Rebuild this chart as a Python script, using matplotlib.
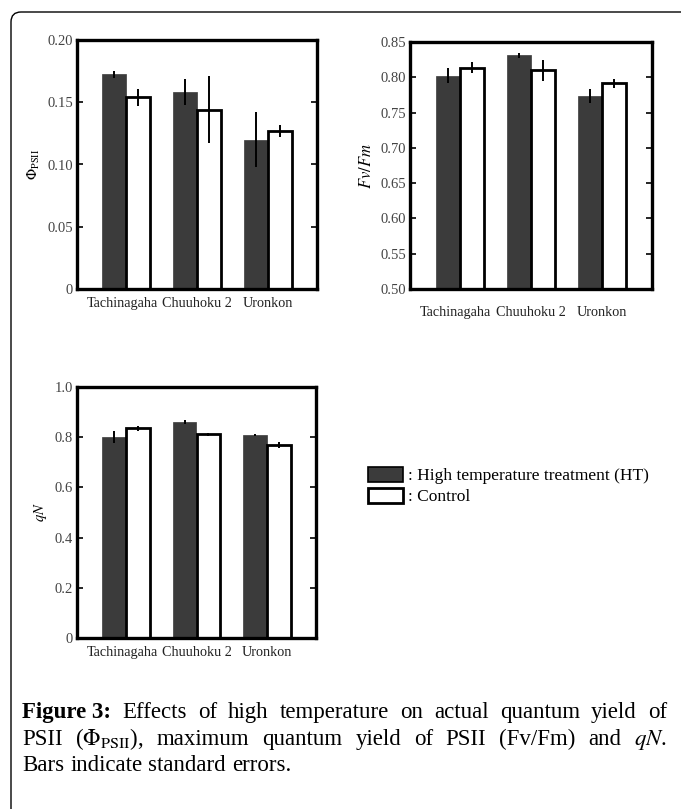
import matplotlib
matplotlib.use('Agg')
import matplotlib.pyplot as plt
from matplotlib.patches import Patch, FancyBboxPatch
from matplotlib.transforms import IdentityTransform, ScaledTranslation
import numpy as np

plt.rcParams['font.family'] = ['Liberation Serif', 'DejaVu Serif']
plt.rcParams['mathtext.fontset'] = 'stix'

cultivars = ['Tachinagaha', 'Chuuhoku 2', 'Uronkon']

# Phi PSII
phi_ht = [0.1725, 0.158, 0.120]
phi_ht_err = [0.003, 0.0105, 0.022]
phi_ct = [0.154, 0.144, 0.127]
phi_ct_err = [0.0067, 0.027, 0.005]

# Fv/Fm
fvfm_ht = [0.802, 0.831, 0.773]
fvfm_ht_err = [0.0105, 0.0035, 0.010]
fvfm_ct = [0.8135, 0.810, 0.7915]
fvfm_ct_err = [0.0075, 0.015, 0.006]

# qN
qn_ht = [0.800, 0.860, 0.810]
qn_ht_err = [0.025, 0.008, 0.004]
qn_ct = [0.835, 0.812, 0.768]
qn_ct_err = [0.010, 0.006, 0.011]

W, H = 681, 809
fig = plt.figure(figsize=(W / 100, H / 100), dpi=100)

dark = '#3b3b3b'
bw = 0.34


def panel(rect, ht, ht_err, ct, ct_err, ylim, yticks, yticklabels, ylabel, ylab_size, lab_pad):
    ax = fig.add_axes(rect)
    x = np.arange(1, len(cultivars) + 1)
    ax.bar(x - bw / 2, ht, bw, color=dark, edgecolor=dark, linewidth=0.5, zorder=2)
    ax.bar(x + bw / 2, ct, bw, color='white', edgecolor='black', linewidth=2.0, zorder=2)
    ax.errorbar(x - bw / 2, ht, yerr=ht_err, fmt='none', ecolor='black', elinewidth=1.4, capsize=0, zorder=3)
    ax.errorbar(x + bw / 2, ct, yerr=ct_err, fmt='none', ecolor='black', elinewidth=1.4, capsize=0, zorder=3)
    ax.set_xlim(0.3, 3.7)
    ax.set_ylim(*ylim)
    ax.set_yticks(yticks)
    ax.set_yticklabels(yticklabels)
    ax.set_xticks(x)
    ax.set_xticklabels(cultivars)
    ax.tick_params(axis='x', length=0, pad=lab_pad, labelsize=10.2, colors='#222222')
    ax.tick_params(axis='y', direction='in', length=4, width=1.2, right=True, left=True,
                   labelsize=10.5, labelcolor='#444444', pad=3)
    # first label sits a little left of its group, as in the original
    lab0 = ax.get_xticklabels()[0]
    lab0.set_transform(lab0.get_transform() + ScaledTranslation(-4 / 100, 0, fig.dpi_scale_trans))
    for s in ax.spines.values():
        s.set_linewidth(2.4)
    ax.set_ylabel(ylabel, fontsize=ylab_size, labelpad=4)
    return ax


ax1 = panel([77 / W, 1 - 289 / H, 240 / W, 249 / H], phi_ht, phi_ht_err, phi_ct, phi_ct_err,
            (0, 0.20), [0, 0.05, 0.10, 0.15, 0.20], ['0', '0.05', '0.10', '0.15', '0.20'],
            r'$\Phi_{\mathrm{PSII}}$', 10.5, 6)
ax2 = panel([410 / W, 1 - 289 / H, 242 / W, 247 / H], fvfm_ht, fvfm_ht_err, fvfm_ct, fvfm_ct_err,
            (0.5, 0.85), [0.5, 0.55, 0.6, 0.65, 0.7, 0.75, 0.8, 0.85],
            ['0.50', '0.55', '0.60', '0.65', '0.70', '0.75', '0.80', '0.85'],
            r'$Fv/Fm$', 12, 12)
ax3 = panel([77 / W, 1 - 638 / H, 239 / W, 251 / H], qn_ht, qn_ht_err, qn_ct, qn_ct_err,
            (0, 1.0), [0, 0.2, 0.4, 0.6, 0.8, 1.0], ['0', '0.2', '0.4', '0.6', '0.8', '1.0'],
            r'$qN$', 10.5, 6)

handles = [Patch(facecolor=dark, edgecolor='black', linewidth=1.2),
           Patch(facecolor='white', edgecolor='black', linewidth=2.0)]
fig.legend(handles, [': High temperature treatment (HT)', ': Control'],
           loc='center left', bbox_to_anchor=(368 / W, 1 - 486 / H), frameon=False,
           fontsize=12.5, handlelength=2.0, handleheight=1.0, handletextpad=0.3,
           labelspacing=0.2, borderpad=0, borderaxespad=0)

# outer rounded frame, cut off at right and bottom
frame = FancyBboxPatch((11, -40), 720, H - 12 + 40, boxstyle='round,pad=0,rounding_size=10',
                       transform=IdentityTransform(), facecolor='none', edgecolor='black',
                       linewidth=1.0)
fig.patches.append(frame)

# caption, justified lines
renderer = fig.canvas.get_renderer()
x_left, x_right = 22, 667
cap_lines = [
    (['Figure 3:', 'Effects', 'of', 'high', 'temperature', 'on', 'actual', 'quantum', 'yield', 'of'], True),
    (['PSII', r'($\Phi_{\mathrm{PSII}}$),', 'maximum', 'quantum', 'yield', 'of', 'PSII', '(Fv/Fm)', 'and', r'$qN$.'], True),
    (['Bars', 'indicate', 'standard', 'errors.'], False),
]
cap_base = [718, 745, 771]
for (words, justify), yy in zip(cap_lines, cap_base):
    texts = []
    for w in words:
        bold = (w == 'Figure 3:')
        t = fig.text(0, 1 - yy / H, w, fontsize=16.5, fontweight='bold' if bold else 'normal',
                     va='baseline', ha='left')
        texts.append(t)
    widths = [t.get_window_extent(renderer).width for t in texts]
    if justify:
        gap = (x_right - x_left - sum(widths)) / (len(words) - 1)
    else:
        gap = 6
    xx = x_left
    for t, w in zip(texts, widths):
        t.set_x(xx / W)
        xx += w + gap

fig.savefig('out.png', dpi=100)
